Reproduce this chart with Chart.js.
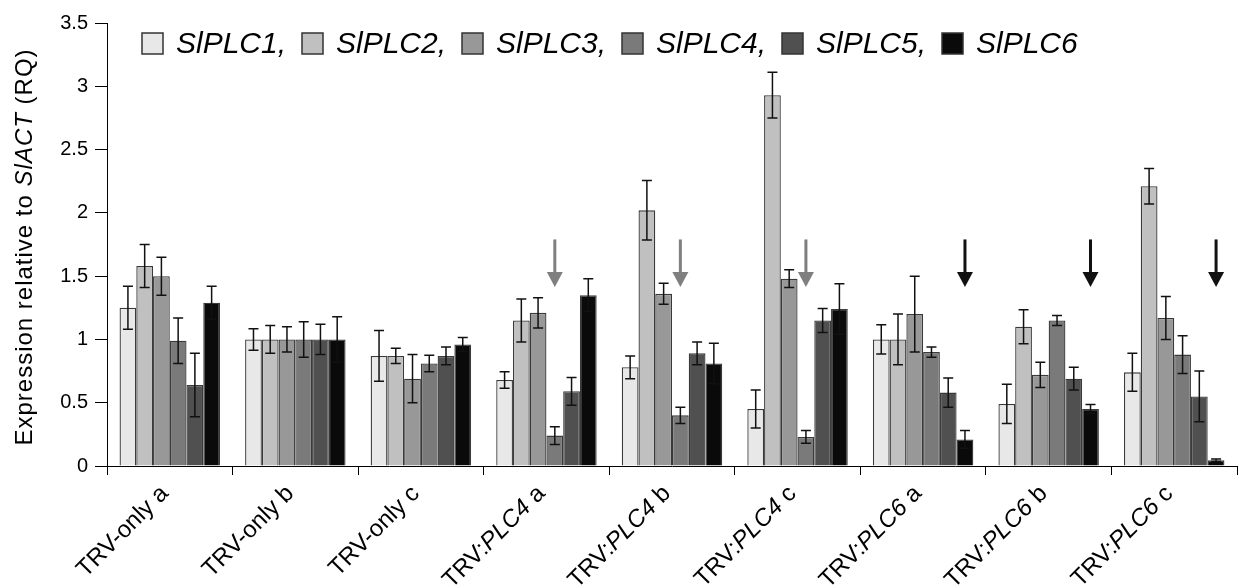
<!DOCTYPE html>
<html>
<head>
<meta charset="utf-8">
<script src="https://cdn.jsdelivr.net/npm/chart.js@4.4.0/dist/chart.umd.min.js"></script>
<style>
  body { margin: 0; background: #fff; }
  #wrap { width: 1239px; height: 588px; }
</style>
</head>
<body>
<div id="wrap"><canvas id="chart" width="1239" height="588"></canvas></div>
<script>
// Datos
var categorias = ['TRV-only a', 'TRV-only b', 'TRV-only c', 'TRV:PLC4 a', 'TRV:PLC4 b', 'TRV:PLC4 c', 'TRV:PLC6 a', 'TRV:PLC6 b', 'TRV:PLC6 c'];
var genes = ['SlPLC1', 'SlPLC2', 'SlPLC3', 'SlPLC4', 'SlPLC5', 'SlPLC6'];

var plc1 = [1.25, 1.00, 0.87, 0.68, 0.78, 0.45, 1.00, 0.49, 0.74];
var plc2 = [1.58, 1.00, 0.87, 1.15, 2.02, 2.93, 1.00, 1.10, 2.21];
var plc3 = [1.50, 1.00, 0.69, 1.21, 1.36, 1.48, 1.20, 0.72, 1.17];
var plc4 = [0.99, 1.00, 0.81, 0.24, 0.40, 0.23, 0.90, 1.15, 0.88];
var plc5 = [0.64, 1.00, 0.87, 0.59, 0.89, 1.15, 0.58, 0.69, 0.55];
var plc6 = [1.29, 1.00, 0.96, 1.35, 0.81, 1.24, 0.21, 0.45, 0.045];

var err1 = [0.17, 0.085, 0.20, 0.065, 0.09, 0.15, 0.115, 0.155, 0.15];
var err2 = [0.17, 0.11, 0.06, 0.17, 0.235, 0.18, 0.20, 0.135, 0.14];
var err3 = [0.15, 0.10, 0.19, 0.12, 0.083, 0.07, 0.30, 0.10, 0.17];
var err4 = [0.18, 0.14, 0.065, 0.07, 0.065, 0.05, 0.04, 0.04, 0.15];
var err5 = [0.25, 0.12, 0.07, 0.11, 0.09, 0.095, 0.115, 0.09, 0.20];
var err6 = [0.13, 0.18, 0.055, 0.13, 0.16, 0.20, 0.07, 0.035, 0.01];

var yTicks = [0, 0.5, 1, 1.5, 2, 2.5, 3, 3.5];

// flechas: categoria y serie sobre la que apuntan
var flechaCat = [3, 4, 5, 6, 7, 8];
var flechaSerie = [3, 3, 3, 5, 5, 5];
var flechaDesde = 1.79;
var flechaHasta = 1.415;

var valores = [plc1, plc2, plc3, plc4, plc5, plc6];
var errores = [err1, err2, err3, err4, err5, err6];
var colores = ['#e8e8e8', '#c0c0c0', '#989898', '#7a7a7a', '#505050', '#0a0a0a'];

var FONT = '"Liberation Sans", Arial, sans-serif';

// dibuja texto con partes en cursiva: [[texto, cursiva], ...]
function anchoPartes(ctx, partes, size) {
    var w = 0;
    partes.forEach(function(p) {
        ctx.font = (p[1] ? 'italic ' : '') + size + 'px ' + FONT;
        w += ctx.measureText(p[0]).width;
    });
    return w;
}
function dibujarPartes(ctx, partes, size, x, y) {
    partes.forEach(function(p) {
        ctx.font = (p[1] ? 'italic ' : '') + size + 'px ' + FONT;
        ctx.fillText(p[0], x, y);
        x += ctx.measureText(p[0]).width;
    });
}
function partesEtiqueta(txt) {
    var i = txt.indexOf(':');
    if (i < 0) return [[txt, false]];
    var j = txt.indexOf(' ', i);
    return [[txt.slice(0, i + 1), false], [txt.slice(i + 1, j), true], [txt.slice(j), false]];
}

var barrasError = {
    id: 'barrasError',
    afterDatasetsDraw: function(chart) {
        var ctx = chart.ctx;
        var y = chart.scales.y;
        ctx.save();
        ctx.strokeStyle = '#111';
        ctx.lineWidth = 1.5;
        valores.forEach(function(serie, s) {
            var meta = chart.getDatasetMeta(s);
            meta.data.forEach(function(bar, k) {
                var v = serie[k], e = errores[s][k];
                var yt = y.getPixelForValue(v + e);
                var yb = y.getPixelForValue(Math.max(v - e, 0));
                ctx.beginPath();
                ctx.moveTo(bar.x, yt); ctx.lineTo(bar.x, yb);
                ctx.moveTo(bar.x - 5, yt); ctx.lineTo(bar.x + 5, yt);
                ctx.moveTo(bar.x - 5, yb); ctx.lineTo(bar.x + 5, yb);
                ctx.stroke();
            });
        });
        ctx.restore();
    }
};

var flechas = {
    id: 'flechas',
    afterDatasetsDraw: function(chart) {
        var ctx = chart.ctx;
        var y = chart.scales.y;
        ctx.save();
        flechaCat.forEach(function(c, i) {
            var s = flechaSerie[i];
            var bar = chart.getDatasetMeta(s).data[c];
            var x = bar.x;
            var y0 = y.getPixelForValue(flechaDesde);
            var y1 = y.getPixelForValue(flechaHasta);
            var col = s === 3 ? '#7f7f7f' : '#111';
            ctx.strokeStyle = col;
            ctx.fillStyle = col;
            ctx.lineWidth = 3;
            ctx.beginPath();
            ctx.moveTo(x, y0); ctx.lineTo(x, y1 - 12);
            ctx.stroke();
            ctx.beginPath();
            ctx.moveTo(x - 8, y1 - 15); ctx.lineTo(x + 8, y1 - 15); ctx.lineTo(x, y1);
            ctx.closePath();
            ctx.fill();
        });
        ctx.restore();
    }
};

var textos = {
    id: 'textos',
    afterDraw: function(chart) {
        var ctx = chart.ctx;
        var xs = chart.scales.x;
        ctx.save();
        ctx.fillStyle = '#000';

        // leyenda
        ctx.textBaseline = 'middle';
        ctx.textAlign = 'left';
        genes.forEach(function(g, i) {
            var bx = 142 + i * 160;
            ctx.fillStyle = colores[i];
            ctx.fillRect(bx, 33, 21, 21);
            ctx.strokeStyle = '#333';
            ctx.lineWidth = 1.5;
            ctx.strokeRect(bx, 33, 21, 21);
            ctx.fillStyle = '#000';
            ctx.font = 'italic 30px ' + FONT;
            ctx.fillText(g + (i < genes.length - 1 ? ',' : ''), bx + 34, 45);
        });

        // etiquetas del eje x
        ctx.textBaseline = 'middle';
        categorias.forEach(function(c, i) {
            var partes = partesEtiqueta(c);
            var w = anchoPartes(ctx, partes, 24);
            ctx.save();
            ctx.translate(xs.getPixelForValue(i) - 5, 490);
            ctx.rotate(-Math.PI / 4);
            dibujarPartes(ctx, partes, 24, -w, 0);
            ctx.restore();
        });

        // titulo del eje y
        var titulo = [['Expression relative to ', false], ['SlACT', true], [' (RQ)', false]];
        ctx.letterSpacing = '1px';
        var wt = anchoPartes(ctx, titulo, 24);
        ctx.save();
        ctx.translate(25, 247);
        ctx.rotate(-Math.PI / 2);
        dibujarPartes(ctx, titulo, 24, -wt / 2, 0);
        ctx.restore();
        ctx.letterSpacing = '0px';

        ctx.restore();
    }
};

document.addEventListener('DOMContentLoaded', function() {
    var ctx = document.getElementById('chart').getContext('2d');
    var chart = new Chart(ctx, {
        type: 'bar',
        data: {
            labels: categorias,
            datasets: genes.map(function(g, i) {
                return {
                    label: g,
                    data: valores[i],
                    backgroundColor: colores[i],
                    borderColor: '#3a3a3a',
                    borderWidth: 1.3,
                    categoryPercentage: 0.8,
                    barPercentage: 1.0
                };
            })
        },
        options: {
            responsive: false,
            animation: false,
            layout: { padding: { top: 23, right: 2, left: 0, bottom: 0 } },
            plugins: {
                legend: { display: false },
                tooltip: { enabled: false }
            },
            scales: {
                x: {
                    grid: { offset: true, drawOnChartArea: false, drawTicks: true, tickLength: 9, tickColor: '#000' },
                    border: { color: '#000', width: 1 },
                    ticks: { display: false },
                    afterFit: function(s) { s.height = 122; }
                },
                y: {
                    min: 0,
                    max: 3.5,
                    afterBuildTicks: function(s) { s.ticks = yTicks.map(function(v) { return { value: v }; }); },
                    grid: { drawOnChartArea: false, drawTicks: true, tickLength: 12, tickColor: '#000' },
                    border: { color: '#000', width: 1 },
                    ticks: {
                        color: '#000',
                        padding: 7,
                        font: { family: FONT, size: 20 },
                        callback: function(v) { return String(v); }
                    },
                    afterFit: function(s) { s.width = 107; }
                }
            }
        },
        plugins: [barrasError, flechas, textos]
    });
});
</script>
</body>
</html>
